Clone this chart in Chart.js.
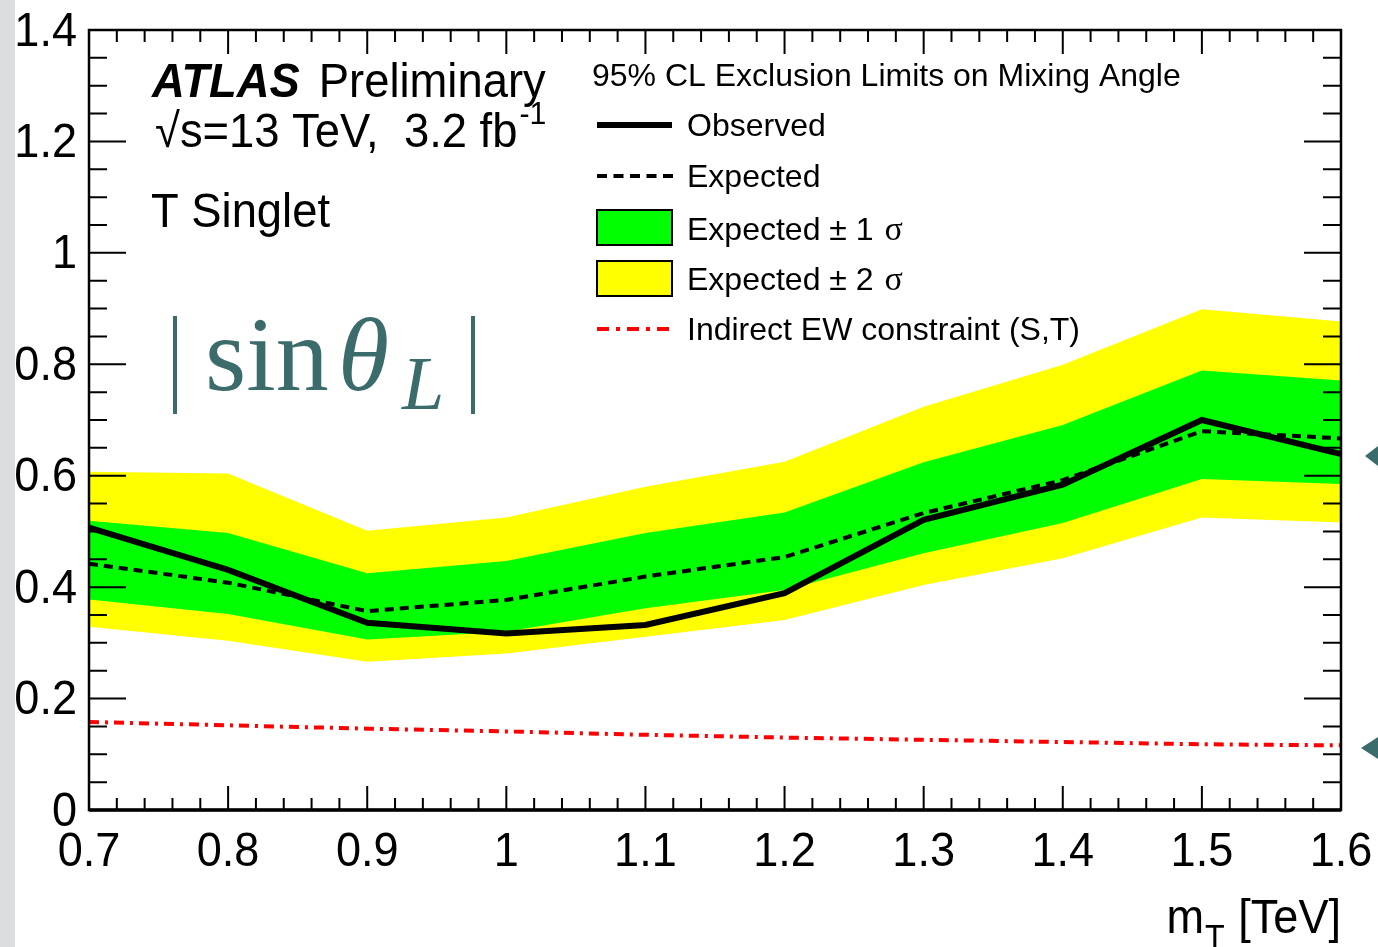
<!DOCTYPE html>
<html>
<head>
<meta charset="utf-8">
<title>Mixing angle limits</title>
<script src="https://cdn.jsdelivr.net/npm/chart.js@4.4.1/dist/chart.umd.min.js"></script>
<style>
  html, body { margin: 0; padding: 0; background: #fff; }
  #wrap { width: 1378px; height: 947px; }
</style>
</head>
<body>
<div id="wrap"><canvas id="chart" width="1378" height="947"></canvas></div>
<script>
// limits on |sin theta_L| vs T mass
const massTeV = [0.7, 0.8, 0.9, 1.0, 1.1, 1.2, 1.3, 1.4, 1.5, 1.6];
const observed = [0.507, 0.431, 0.336, 0.317, 0.332, 0.389, 0.521, 0.584, 0.700, 0.639];
const expected = [0.442, 0.408, 0.357, 0.377, 0.419, 0.454, 0.533, 0.592, 0.680, 0.667];
const oneSigmaUp = [0.519, 0.497, 0.425, 0.447, 0.497, 0.534, 0.624, 0.691, 0.789, 0.771];
const oneSigmaDown = [0.378, 0.352, 0.306, 0.320, 0.362, 0.395, 0.461, 0.515, 0.594, 0.585];
const twoSigmaUp = [0.607, 0.604, 0.501, 0.525, 0.580, 0.625, 0.724, 0.799, 0.899, 0.877];
const twoSigmaDown = [0.329, 0.304, 0.266, 0.281, 0.311, 0.341, 0.404, 0.452, 0.525, 0.516];
const ewConstraint = [0.158, 0.152, 0.146, 0.141, 0.135, 0.130, 0.126, 0.122, 0.118, 0.116];

const xTickLabels = ['0.7', '0.8', '0.9', '1', '1.1', '1.2', '1.3', '1.4', '1.5', '1.6'];
const yTickLabels = ['0', '0.2', '0.4', '0.6', '0.8', '1', '1.2', '1.4'];

const SANS = '"Liberation Sans", Arial, Helvetica, sans-serif';
const SERIF = '"Liberation Serif", "Times New Roman", serif';
const TEAL = '#3b6b6b';
const NARROW = 0.92; // ROOT's helvetica is a bit narrower

function points(values) {
  return massTeV.map((m, i) => ({ x: m, y: values[i] }));
}

function band(values, color, fillTo) {
  return {
    data: points(values),
    borderWidth: 0,
    pointRadius: 0,
    backgroundColor: color,
    fill: fillTo,
    tension: 0
  };
}

// text squeezed horizontally around its anchor; returns drawn width
function narrowText(ctx, text, x, y, sx = NARROW) {
  ctx.save();
  ctx.translate(x, y);
  ctx.scale(sx, 1);
  ctx.fillText(text, 0, 0);
  const w = ctx.measureText(text).width * sx;
  ctx.restore();
  return w;
}

// ROOT style frame: box, inward ticks on all four sides, tick labels
const rootFrame = {
  id: 'rootFrame',
  beforeDraw(chart) {
    const ctx = chart.ctx;
    ctx.save();
    ctx.fillStyle = '#dcdde0';
    ctx.fillRect(0, 0, 15, chart.height);
    ctx.restore();
  },
  afterDatasetsDraw(chart) {
    const { ctx, chartArea: a, scales: { x, y } } = chart;
    ctx.save();
    ctx.strokeStyle = '#000';
    ctx.lineWidth = 2;
    ctx.beginPath();
    for (let i = 0; i <= 45; i++) {
      const px = x.getPixelForValue(0.7 + i * 0.02);
      const len = i % 5 === 0 ? 24 : 12;
      ctx.moveTo(px, a.bottom); ctx.lineTo(px, a.bottom - len);
      ctx.moveTo(px, a.top); ctx.lineTo(px, a.top + len);
    }
    for (let i = 0; i <= 28; i++) {
      const py = y.getPixelForValue(i * 0.05);
      const len = i % 4 === 0 ? 37 : 18;
      ctx.moveTo(a.left, py); ctx.lineTo(a.left + len, py);
      ctx.moveTo(a.right, py); ctx.lineTo(a.right - len, py);
    }
    ctx.stroke();

    ctx.lineWidth = 2.5;
    ctx.strokeRect(a.left, a.top, a.right - a.left, a.bottom - a.top);
    ctx.lineWidth = 3.5;
    ctx.beginPath();
    ctx.moveTo(a.left, a.bottom); ctx.lineTo(a.right, a.bottom);
    ctx.stroke();

    ctx.fillStyle = '#000';
    ctx.font = '49px ' + SANS;
    ctx.textAlign = 'right';
    ctx.textBaseline = 'middle';
    yTickLabels.forEach(t => narrowText(ctx, t, a.left - 12, y.getPixelForValue(Number(t)) + 2));
    ctx.textAlign = 'center';
    ctx.textBaseline = 'alphabetic';
    xTickLabels.forEach(t => narrowText(ctx, t, x.getPixelForValue(Number(t)), 866));

    // axis title: m_T [TeV], right aligned to the frame
    ctx.textAlign = 'left';
    ctx.font = '49px ' + SANS;
    const tail = ' [TeV]';
    const wTail = ctx.measureText(tail).width * NARROW;
    const wM = ctx.measureText('m').width * NARROW;
    ctx.font = '35px ' + SANS;
    const wSub = ctx.measureText('T').width * NARROW;
    const x0 = a.right - wTail - wSub - wM - 2;
    ctx.font = '49px ' + SANS;
    narrowText(ctx, 'm', x0, 933);
    narrowText(ctx, tail, x0 + wM + wSub + 2, 933);
    ctx.font = '35px ' + SANS;
    narrowText(ctx, 'T', x0 + wM + 1, 949);
    ctx.restore();
  },
  afterDraw(chart) {
    const ctx = chart.ctx;
    ctx.save();
    ctx.fillStyle = '#000';
    ctx.textAlign = 'left';
    ctx.textBaseline = 'alphabetic';

    // experiment label
    const sx = 0.945;
    ctx.font = 'italic bold 48px ' + SANS;
    const wAtlas = narrowText(ctx, 'ATLAS', 152, 97, sx);
    ctx.font = '48px ' + SANS;
    narrowText(ctx, 'Preliminary', 152 + wAtlas + 19, 97, sx);
    const line2 = '\u221As=13 TeV,  3.2 fb';
    const w2 = narrowText(ctx, line2, 155, 147, sx);
    ctx.font = '32px ' + SANS;
    narrowText(ctx, '-1', 155 + w2 + 2, 124, sx);
    ctx.font = '48px ' + SANS;
    narrowText(ctx, 'T Singlet', 151, 227, sx);

    // |sin theta_L|
    ctx.fillStyle = TEAL;
    ctx.strokeStyle = TEAL;
    ctx.lineWidth = 4;
    ctx.beginPath();
    ctx.moveTo(175, 316); ctx.lineTo(175, 414);
    ctx.moveTo(473, 316); ctx.lineTo(473, 414);
    ctx.stroke();
    ctx.font = '106px ' + SERIF;
    ctx.fillText('sin', 205, 390);
    ctx.font = 'italic 104px ' + SERIF;
    ctx.fillText('\u03B8', 338, 390);
    ctx.font = 'italic 76px ' + SERIF;
    ctx.fillText('L', 402, 409);

    // side arrows
    ctx.beginPath();
    ctx.moveTo(1365, 456); ctx.lineTo(1378, 446); ctx.lineTo(1378, 466); ctx.closePath();
    ctx.moveTo(1361, 748); ctx.lineTo(1378, 737); ctx.lineTo(1378, 759); ctx.closePath();
    ctx.fill();

    // legend
    ctx.fillStyle = '#000';
    ctx.font = '32px ' + SANS;
    ctx.fillText('95% CL Exclusion Limits on Mixing Angle', 592, 86);
    const lx0 = 597, lx1 = 672, tx = 687;
    ctx.strokeStyle = '#000';
    ctx.lineWidth = 6;
    ctx.beginPath(); ctx.moveTo(lx0, 125); ctx.lineTo(lx1, 125); ctx.stroke();
    ctx.fillText('Observed', tx, 136);

    ctx.lineWidth = 4;
    ctx.setLineDash([10, 6.5]);
    ctx.beginPath(); ctx.moveTo(lx0, 176); ctx.lineTo(lx1 + 2, 176); ctx.stroke();
    ctx.setLineDash([]);
    ctx.fillText('Expected', tx, 187);

    ctx.lineWidth = 2;
    ctx.fillStyle = '#00ff00';
    ctx.fillRect(lx0, 210, lx1 - lx0, 35);
    ctx.strokeRect(lx0, 210, lx1 - lx0, 35);
    ctx.fillStyle = '#ffff00';
    ctx.fillRect(lx0, 261, lx1 - lx0, 35);
    ctx.strokeRect(lx0, 261, lx1 - lx0, 35);

    ctx.fillStyle = '#000';
    [['Expected \u00B1 1 ', 240], ['Expected \u00B1 2 ', 290]].forEach(([t, by]) => {
      ctx.font = '32px ' + SANS;
      ctx.fillText(t, tx, by);
      const w = ctx.measureText(t).width;
      ctx.font = '34px ' + SERIF;
      ctx.fillText('\u03C3', tx + w + 2, by);
    });

    ctx.strokeStyle = '#ff0000';
    ctx.lineWidth = 4;
    ctx.setLineDash([12, 7, 4, 7]);
    ctx.beginPath(); ctx.moveTo(lx0, 329); ctx.lineTo(lx1, 329); ctx.stroke();
    ctx.setLineDash([]);
    ctx.font = '32px ' + SANS;
    ctx.fillText('Indirect EW constraint (S,T)', tx, 340);
    ctx.restore();
  }
};

new Chart(document.getElementById('chart'), {
  type: 'line',
  data: {
    datasets: [
      {
        label: 'Observed',
        data: points(observed),
        borderColor: '#000',
        borderWidth: 6,
        pointRadius: 0,
        fill: false,
        tension: 0
      },
      {
        label: 'Expected',
        data: points(expected),
        borderColor: '#000',
        borderWidth: 4,
        borderDash: [9, 6],
        pointRadius: 0,
        fill: false,
        tension: 0
      },
      {
        label: 'Indirect EW constraint (S,T)',
        data: points(ewConstraint),
        borderColor: '#ff0000',
        borderWidth: 4,
        borderDash: [10, 6, 3, 6],
        pointRadius: 0,
        fill: false,
        tension: 0
      },
      band(oneSigmaUp, '#00ff00', '+1'),
      band(oneSigmaDown, '#00ff00', false),
      band(twoSigmaUp, '#ffff00', '+1'),
      band(twoSigmaDown, '#ffff00', false)
    ]
  },
  options: {
    responsive: false,
    animation: false,
    layout: { padding: { left: 89, right: 37, top: 30, bottom: 137 } },
    scales: {
      x: { type: 'linear', min: 0.7, max: 1.6, display: false },
      y: { type: 'linear', min: 0, max: 1.4, display: false }
    },
    plugins: {
      legend: { display: false },
      tooltip: { enabled: false }
    }
  },
  plugins: [rootFrame]
});
</script>
</body>
</html>
